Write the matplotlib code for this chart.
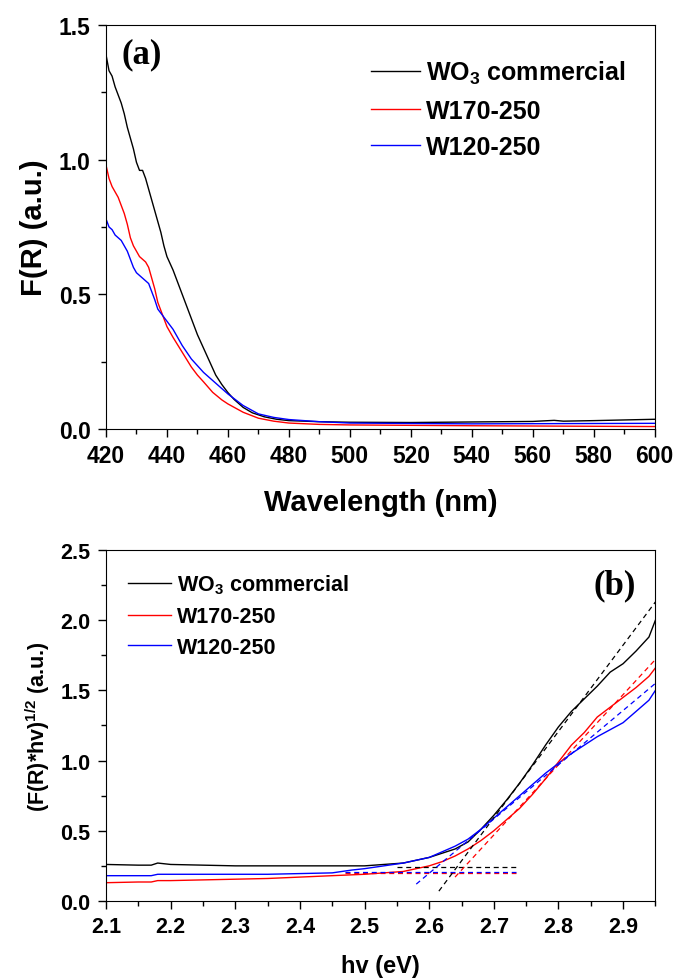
import matplotlib
matplotlib.use("Agg")
import matplotlib.pyplot as plt
from matplotlib.ticker import MultipleLocator

plt.rcParams['font.family'] = ['Liberation Sans', 'DejaVu Sans']
plt.rcParams['font.weight'] = 'bold'
plt.rcParams['mathtext.default'] = 'bf'
plt.rcParams['mathtext.fontset'] = 'custom'
plt.rcParams['mathtext.bf'] = 'Liberation Sans:bold'
plt.rcParams['mathtext.rm'] = 'Liberation Sans:bold'

# ---------------- Panel (a) data ----------------
wl_black = [420, 421, 422, 423, 424, 425, 426, 427, 428, 429, 430, 431, 432, 433, 434, 435, 436, 437,
            438, 439, 440, 442, 444, 446, 448, 450, 452, 454, 456, 458, 460, 462, 465, 468, 472, 476,
            480, 490, 500, 520, 540, 560, 567, 570, 580, 600]
fr_black = [1.39, 1.33, 1.31, 1.27, 1.24, 1.21, 1.17, 1.12, 1.08, 1.04, 0.99, 0.96, 0.96, 0.93, 0.89,
            0.85, 0.81, 0.77, 0.73, 0.68, 0.64, 0.59, 0.53, 0.47, 0.41, 0.35, 0.30, 0.25, 0.20, 0.165,
            0.135, 0.11, 0.08, 0.06, 0.045, 0.036, 0.031, 0.027, 0.025, 0.024, 0.026, 0.028, 0.032,
            0.029, 0.031, 0.036]

wl_red = [420, 421, 422, 423, 424, 425, 426, 427, 428, 429, 430, 431, 432, 433, 434, 435, 436, 437,
          438, 440, 442, 445, 448, 450, 452, 455, 458, 460, 465, 470, 475, 480, 490, 500, 540, 600]
fr_red = [0.98, 0.93, 0.90, 0.88, 0.86, 0.83, 0.80, 0.76, 0.71, 0.68, 0.66, 0.64, 0.63, 0.62, 0.60,
          0.56, 0.52, 0.47, 0.44, 0.38, 0.34, 0.285, 0.23, 0.20, 0.175, 0.136, 0.108, 0.093, 0.062,
          0.040, 0.029, 0.022, 0.017, 0.015, 0.012, 0.009]

wl_blue = [420, 421, 422, 423, 424, 425, 426, 427, 428, 429, 430, 431, 432, 433, 434, 435, 436, 437,
           438, 440, 442, 445, 448, 450, 452, 455, 458, 460, 465, 470, 475, 480, 490, 500, 540, 600]
fr_blue = [0.78, 0.75, 0.74, 0.72, 0.71, 0.70, 0.68, 0.66, 0.63, 0.60, 0.58, 0.57, 0.56, 0.55, 0.54,
           0.51, 0.48, 0.445, 0.43, 0.40, 0.37, 0.31, 0.26, 0.235, 0.21, 0.18, 0.15, 0.13, 0.087,
           0.056, 0.043, 0.035, 0.027, 0.022, 0.019, 0.021]

# ---------------- Panel (b) data ----------------
hv_black = [2.10, 2.15, 2.17, 2.18, 2.20, 2.25, 2.30, 2.35, 2.40, 2.45, 2.50, 2.53, 2.56, 2.58, 2.60,
            2.62, 2.64, 2.66, 2.68, 2.70, 2.72, 2.74, 2.76, 2.78, 2.80, 2.82, 2.84, 2.86, 2.88, 2.90,
            2.92, 2.94, 2.95]
y_black = [0.26, 0.255, 0.255, 0.27, 0.26, 0.255, 0.25, 0.25, 0.25, 0.25, 0.25, 0.26, 0.27, 0.29,
           0.31, 0.34, 0.37, 0.42, 0.51, 0.61, 0.72, 0.84, 0.97, 1.11, 1.24, 1.35, 1.44, 1.53, 1.63,
           1.69, 1.78, 1.88, 2.00]

hv_red = [2.10, 2.15, 2.17, 2.18, 2.20, 2.25, 2.30, 2.35, 2.40, 2.45, 2.50, 2.53, 2.56, 2.58, 2.60,
          2.62, 2.64, 2.66, 2.68, 2.70, 2.72, 2.74, 2.76, 2.78, 2.80, 2.82, 2.84, 2.86, 2.88, 2.90,
          2.92, 2.94, 2.95]
y_red = [0.13, 0.135, 0.135, 0.145, 0.145, 0.15, 0.155, 0.16, 0.17, 0.18, 0.19, 0.20, 0.21, 0.23,
         0.25, 0.28, 0.32, 0.37, 0.43, 0.50, 0.58, 0.66, 0.76, 0.87, 0.99, 1.11, 1.20, 1.31, 1.38,
         1.45, 1.52, 1.60, 1.66]

hv_blue = [2.10, 2.15, 2.17, 2.18, 2.20, 2.25, 2.30, 2.35, 2.40, 2.45, 2.48, 2.50, 2.53, 2.56, 2.58,
           2.60, 2.62, 2.64, 2.66, 2.68, 2.70, 2.72, 2.74, 2.76, 2.78, 2.80, 2.82, 2.84, 2.86, 2.88,
           2.90, 2.92, 2.94, 2.95]
y_blue = [0.18, 0.18, 0.18, 0.19, 0.19, 0.19, 0.19, 0.19, 0.195, 0.20, 0.22, 0.23, 0.25, 0.27, 0.29,
          0.31, 0.35, 0.39, 0.44, 0.51, 0.59, 0.67, 0.75, 0.83, 0.91, 0.98, 1.05, 1.11, 1.17, 1.22,
          1.27, 1.35, 1.43, 1.50]

# tangent / baseline fit lines (x pairs, y pairs)
fit_black_base = ([2.55, 2.735], [0.24, 0.24])
fit_red_base = ([2.47, 2.735], [0.20, 0.20])
fit_blue_base = ([2.47, 2.735], [0.205, 0.205])
fit_black_slope = ([2.615, 2.95], [0.07, 2.13])
fit_red_slope = ([2.64, 2.95], [0.17, 1.72])
fit_blue_slope = ([2.58, 2.95], [0.12, 1.55])

labels = [r'WO$_3$ commercial', 'W170-250', 'W120-250']
colors = ['black', '#ff0000', '#0000ff']

fig = plt.figure(figsize=(6.75, 9.79), dpi=100)

# ---------------- Panel (a) ----------------
ax1 = fig.add_axes([0.157, 0.5608, 0.813, 0.4127])
ax1.plot(wl_black, fr_black, color=colors[0], lw=1.0, label=labels[0])
ax1.plot(wl_red, fr_red, color=colors[1], lw=1.0, label=labels[1])
ax1.plot(wl_blue, fr_blue, color=colors[2], lw=1.0, label=labels[2])
ax1.set_xlim(420, 600)
ax1.set_ylim(0, 1.5)
ax1.xaxis.set_major_locator(MultipleLocator(20))
ax1.xaxis.set_minor_locator(MultipleLocator(10))
ax1.yaxis.set_major_locator(MultipleLocator(0.5))
ax1.yaxis.set_minor_locator(MultipleLocator(0.25))
ax1.tick_params(which='both', direction='out', top=False, right=False, labelsize=16.5)
ax1.tick_params(which='major', length=6, width=1, pad=5)
ax1.tick_params(which='minor', length=3.5, width=1)
ax1.set_xlabel('Wavelength (nm)', fontsize=21, fontweight='bold', labelpad=15)
ax1.set_ylabel('F(R) (a.u.)', fontsize=21, fontweight='bold', labelpad=8)
ax1.text(0.028, 0.928, '(a)', transform=ax1.transAxes, fontsize=25, fontweight='bold',
         family=['Liberation Serif'], va='center', ha='left')
leg1 = ax1.legend(loc='upper left', bbox_to_anchor=(0.483, 0.916), frameon=False,
                  prop={'size': 18, 'weight': 'bold'}, handlelength=1.96, labelspacing=0.5,
                  handletextpad=0.24, borderaxespad=0, borderpad=0)

# ---------------- Panel (b) ----------------
ax2 = fig.add_axes([0.157, 0.0787, 0.814, 0.3585])
ax2.plot(hv_black, y_black, color=colors[0], lw=1.0, label=labels[0])
ax2.plot(hv_red, y_red, color=colors[1], lw=1.0, label=labels[1])
ax2.plot(hv_blue, y_blue, color=colors[2], lw=1.0, label=labels[2])
for (xs, ys), c in [(fit_black_base, colors[0]), (fit_red_base, colors[1]), (fit_blue_base, colors[2]),
                    (fit_black_slope, colors[0]), (fit_red_slope, colors[1]), (fit_blue_slope, colors[2])]:
    ax2.plot(xs, ys, color=c, lw=0.9, ls=(0, (4, 3)))
ax2.set_xlim(2.1, 2.95)
ax2.set_ylim(0, 2.5)
ax2.xaxis.set_major_locator(MultipleLocator(0.1))
ax2.xaxis.set_minor_locator(MultipleLocator(0.05))
ax2.yaxis.set_major_locator(MultipleLocator(0.5))
ax2.yaxis.set_minor_locator(MultipleLocator(0.25))
ax2.tick_params(which='both', direction='out', top=False, right=False, labelsize=15.5)
ax2.tick_params(which='major', length=6, width=1, pad=5)
ax2.tick_params(which='minor', length=3.5, width=1)
ax2.set_xlabel('hv (eV)', fontsize=17, fontweight='bold', labelpad=12)
ax2.set_ylabel(r'(F(R)*hv)$^{1/2}$ (a.u.)', fontsize=15.5, fontweight='bold', labelpad=6)
ax2.text(0.965, 0.9, '(b)', transform=ax2.transAxes, fontsize=25, fontweight='bold',
         family=['Liberation Serif'], va='center', ha='right')
handles, labs = ax2.get_legend_handles_labels()
leg2 = ax2.legend(handles[:3], labs[:3], loc='upper left', bbox_to_anchor=(0.04, 0.935), frameon=False,
                  prop={'size': 15.5, 'weight': 'bold'}, handlelength=2.0, labelspacing=0.45,
                  handletextpad=0.28, borderaxespad=0, borderpad=0)

fig.savefig('out.png', dpi=100)
